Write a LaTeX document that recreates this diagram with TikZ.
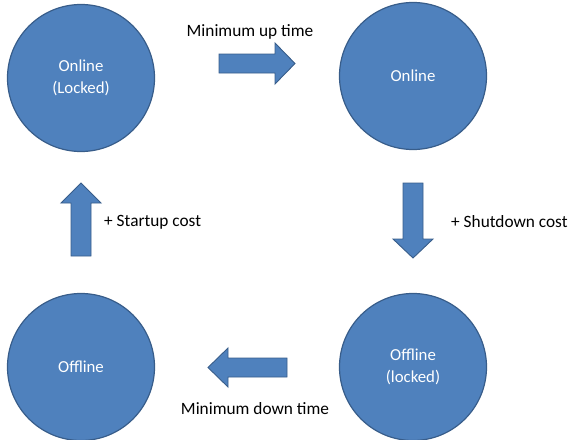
\documentclass[tikz,border=0pt]{standalone}
\usepackage{fontspec}
\setmainfont{Carlito}
\definecolor{stfill}{HTML}{4F81BD}
\definecolor{stline}{HTML}{385D8A}
\begin{document}
\begin{tikzpicture}[x=1pt,y=-1pt,
  state/.style={circle,fill=stfill,draw=stline,line width=1.2pt,minimum size=147pt,inner sep=0pt,
    text=white,font=\fontsize{16.8}{21.5}\selectfont,align=center},
  blockarrow/.style={fill=stfill,draw=stline,line width=0.9pt,line join=miter},
  lbl/.style={font=\fontsize{17.3}{20}\selectfont,text=black,inner sep=0pt}]
\useasboundingbox (0,0) rectangle (570,439);
\node[state] (onl) at (81,78) {Online\\(Locked)};
\node[state] (on) at (413,76) {Online};
\node[state] (off) at (81,367) {Offline};
\node[state] (offl) at (413,367) {Offline\\(locked)};
% right arrow
\draw[blockarrow] (219,54) -- (275,54) -- (275,43) -- (295,63.5) -- (275,84) -- (275,73) -- (219,73) -- cycle;
\node[lbl] (lup) at (250,32) {Minimum up time};
% down arrow
\draw[blockarrow] (403,183) -- (423,183) -- (423,239) -- (433,239) -- (413,258) -- (393,239) -- (403,239) -- cycle;
\node[lbl,anchor=west] (lsd) at (451,222) {+ Shutdown cost};
% left arrow
\draw[blockarrow] (287,358) -- (228,358) -- (228,348) -- (208,367.5) -- (228,387) -- (228,377) -- (287,377) -- cycle;
\node[lbl] (ldn) at (255,409) {Minimum down time};
% up arrow
\draw[blockarrow] (71,256) -- (71,203) -- (61,203) -- (81,183) -- (101,203) -- (91,203) -- (91,256) -- cycle;
\node[lbl,anchor=west] (lsu) at (104,222) {+ Startup cost};
\end{tikzpicture}
\end{document}
